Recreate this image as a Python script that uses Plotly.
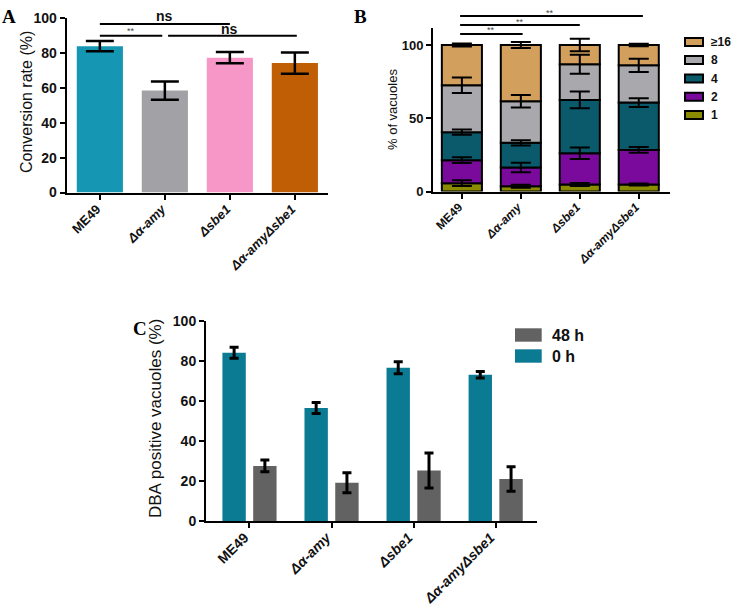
import plotly.graph_objects as go
import numpy as np

# ---------------- data ----------------
categories = ["ME49", "Δα-amy", "Δsbe1", "Δα-amyΔsbe1"]
tick_text = ["ME49", "<i>Δα-amy</i>", "<i>Δsbe1</i>", "<i>Δα-amyΔsbe1</i>"]

# Panel A: conversion rate (%)
conv_rate = [84.0, 58.5, 77.4, 74.3]
conv_err = [2.9, 5.2, 3.2, 6.1]

# Panel B: % of vacuoles per size class (stacked, bottom to top)
size_classes = ["1", "2", "4", "8", "≥16"]
vac_1 = [5.7, 3.6, 4.8, 4.8]
vac_2 = [15.7, 12.8, 21.3, 23.6]
vac_4 = [19.1, 16.8, 36.4, 32.3]
vac_8 = [32.0, 28.4, 24.3, 25.4]
vac_16 = [27.5, 38.4, 13.2, 13.9]
err_1 = [2.0, 1.0, 1.0, 0.7]
err_2 = [2.0, 3.3, 4.0, 2.0]
err_4 = [1.8, 1.8, 5.7, 3.0]
err_8 = [5.3, 4.3, 6.5, 4.5]
err_16 = [1.0, 2.0, 4.2, 0.8]

# Panel C: DBA positive vacuoles (%)
time_labels = ["0 h", "48 h"]
dba_0h = [84.0, 56.4, 76.5, 73.0]
dba_0h_err = [2.7, 2.7, 3.0, 1.6]
dba_48h = [27.5, 19.1, 25.2, 21.0]
dba_48h_err = [2.9, 5.0, 8.7, 6.1]

# ---------------- styles ----------------
W, H = 733, 608
def px(x):
    return x / W
def py(y):
    return 1 - y / H

FONT = "Liberation Sans, Arial, sans-serif"
SERIF = "Liberation Serif, Times New Roman, serif"
colors_A = ["#1597b3", "#a2a1a6", "#f797c7", "#c05e05"]
colors_B = ["#8b8b00", "#7a0a9c", "#0a5a6c", "#a9a8ad", "#d39f5d"]
color_0h = "#0b7b94"
color_48h = "#626262"

fig = go.Figure()

# ---- Panel A ----
fig.add_trace(go.Bar(
    x=categories, y=conv_rate, width=0.71,
    marker=dict(color=colors_A, line=dict(width=0)),
    error_y=dict(type="data", array=conv_err, color="black", thickness=2.5, width=14),
    xaxis="x", yaxis="y", showlegend=False))

# ---- Panel B ----
segments = [vac_1, vac_2, vac_4, vac_8, vac_16]
seg_errs = [err_1, err_2, err_4, err_8, err_16]
base = np.zeros(len(categories))
tops = []
for name, seg, col in zip(size_classes, segments, colors_B):
    seg = np.array(seg)
    fig.add_trace(go.Bar(
        x=categories, y=seg, base=base.copy(), width=0.68, name=name,
        marker=dict(color=col, line=dict(color="black", width=2)),
        xaxis="x2", yaxis="y2", showlegend=False))
    base = base + seg
    tops.append(base.copy())
for top, er in zip(tops, seg_errs):
    fig.add_trace(go.Scatter(
        x=categories, y=top, mode="markers", marker=dict(size=0.1, color="rgba(0,0,0,0)"),
        error_y=dict(type="data", array=er, color="black", thickness=2, width=10),
        xaxis="x2", yaxis="y2", showlegend=False, hoverinfo="skip"))

# ---- Panel C ----
fig.add_trace(go.Bar(
    x=categories, y=dba_0h, width=0.285, offset=-0.33, name="0 h",
    marker=dict(color=color_0h, line=dict(width=0)),
    error_y=dict(type="data", array=dba_0h_err, color="black", thickness=3, width=4.5),
    xaxis="x3", yaxis="y3", showlegend=False))
fig.add_trace(go.Bar(
    x=categories, y=dba_48h, width=0.285, offset=0.045, name="48 h",
    marker=dict(color=color_48h, line=dict(width=0)),
    error_y=dict(type="data", array=dba_48h_err, color="black", thickness=3, width=4.5),
    xaxis="x3", yaxis="y3", showlegend=False))

def xax(domain, rng, anchor, size, shift=-3, standoff=-3):
    return dict(domain=domain, range=rng, anchor=anchor, type="category",
                categoryorder="array", categoryarray=categories,
                tickvals=categories, ticktext=tick_text, tickangle=-45,
                ticklabelshift=shift, ticklabelstandoff=standoff, automargin=False,
                showline=True, linecolor="black", linewidth=2,
                ticks="outside", ticklen=5, tickwidth=2, tickcolor="black",
                showgrid=False, zeroline=False,
                tickfont=dict(family=FONT, size=size, color="#111", weight="bold"))

def yax(domain, rng, anchor, dtick, size):
    return dict(domain=domain, range=rng, anchor=anchor, dtick=dtick, tick0=0,
                automargin=False,
                showline=True, linecolor="black", linewidth=2,
                ticks="outside", ticklen=5, tickwidth=2, tickcolor="black",
                showgrid=False, zeroline=False,
                tickfont=dict(family=FONT, size=size, color="#111", weight="bold"))

fig.update_layout(
    template="none",
    width=W, height=H, autosize=False,
    margin=dict(l=0, r=0, t=0, b=0, pad=0),
    paper_bgcolor="white", plot_bgcolor="white",
    barmode="overlay", showlegend=False,
    xaxis=xax([px(66.7), px(328)], [-0.51, 3.51], "y", 13),
    yaxis=yax([py(192.5), py(18.3)], [0, 100], "x", 20, 14),
    xaxis2=xax([px(433), px(670)], [-0.49, 3.53], "y2", 12),
    yaxis2=yax([py(191.5), py(28.3)], [0, 111.4], "x2", 50, 13),
    xaxis3=xax([px(206), px(536.7)], [-0.53, 3.5], "y3", 14, shift=-5, standoff=-4),
    yaxis3=yax([py(521), py(320.7)], [0, 100], "x3", 20, 14),
)

shapes = []
ann = []

def hline(xref, x0, x1, ypx, w=2):
    shapes.append(dict(type="line", xref=xref, yref="paper", x0=x0, x1=x1,
                       y0=py(ypx), y1=py(ypx), line=dict(color="black", width=w)))

def text(xref, x, ypx, s, size, color="#111", weight="normal", family=FONT, xanchor="center"):
    ann.append(dict(xref=xref, yref="paper", x=x, y=py(ypx), text=s, showarrow=False,
                    xanchor=xanchor, yanchor="middle", borderpad=0,
                    font=dict(family=family, size=size, color=color, weight=weight)))

# Panel A significance
hline("x", 0, 2, 24)
hline("x", 0, 0.96, 35.7)
hline("x", 1.05, 3.03, 35.7)
text("x", 1.0, 16.5, "ns", 14, weight="bold")
text("x", 2.0, 28.5, "ns", 14, weight="bold")
text("x", 0.48, 31, "**", 9, color="#444")

# Panel B significance
hline("x2", -0.03, 3.07, 16)
hline("x2", -0.03, 2.0, 25)
hline("x2", -0.03, 1.03, 34)
text("x2", 1.5, 12.5, "**", 9, color="#444")
text("x2", 0.98, 21.5, "**", 9, color="#444")
text("x2", 0.5, 30.5, "**", 9, color="#444")

# Axis titles
ann.append(dict(xref="paper", yref="paper", x=px(26), y=py(102), text="Conversion rate (%)",
                textangle=-90, showarrow=False, xanchor="center", yanchor="middle",
                font=dict(family=FONT, size=16, color="#111")))
ann.append(dict(xref="paper", yref="paper", x=px(392), y=py(110), text="% of vacuoles",
                textangle=-90, showarrow=False, xanchor="center", yanchor="middle",
                font=dict(family=FONT, size=13, color="#111")))
ann.append(dict(xref="paper", yref="paper", x=px(155), y=py(419), text="DBA positive vacuoles (%)",
                textangle=-90, showarrow=False, xanchor="center", yanchor="middle",
                font=dict(family=FONT, size=17, color="#111")))

# Panel letters
for letter, xl, yt in [("A", 0, 4), ("B", 352, 4), ("C", 131, 316)]:
    ann.append(dict(xref="paper", yref="paper", x=px(xl), y=py(yt), text=letter,
                    showarrow=False, xanchor="left", yanchor="top",
                    font=dict(family=SERIF, size=19, color="black", weight="bold")))

# Panel B legend (top to bottom: ≥16, 8, 4, 2, 1)
leg_y = [42, 60, 78.5, 96.7, 115]
for yc, name, col in zip(leg_y, size_classes[::-1], colors_B[::-1]):
    shapes.append(dict(type="rect", xref="paper", yref="paper",
                       x0=px(685), x1=px(703), y0=py(yc + 4), y1=py(yc - 4),
                       fillcolor=col, line=dict(color="black", width=2)))
    text("paper", px(710), yc, name, 12, weight="bold", xanchor="left")

# Panel C legend
for yc, name, col in [(335, "48 h", color_48h), (356, "0 h", color_0h)]:
    shapes.append(dict(type="rect", xref="paper", yref="paper",
                       x0=px(515), x1=px(541.7), y0=py(yc + 6.7), y1=py(yc - 6.7),
                       fillcolor=col, line=dict(width=0)))
    text("paper", px(551), yc, name, 16, weight="bold", xanchor="left")

fig.update_layout(shapes=shapes, annotations=ann)
fig.write_html("out.html", config={"displayModeBar": False},
               post_script="document.body.style.margin='0';document.body.style.padding='0';")
